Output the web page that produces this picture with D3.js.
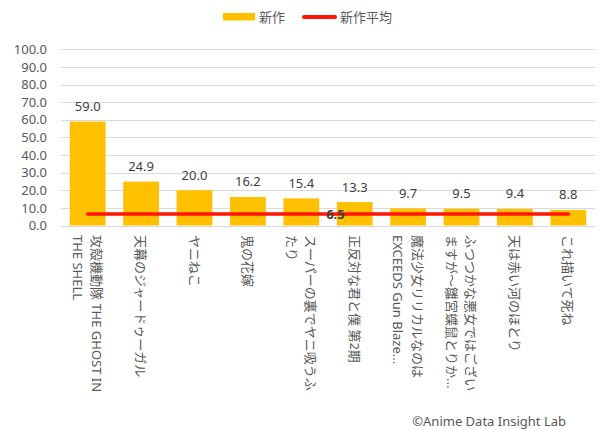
<!DOCTYPE html>
<html>
<head>
<meta charset="utf-8">
<script src="https://d3js.org/d3.v7.min.js"></script>
<style>
  body { margin: 0; background: #fff; }
  text { font-family: "Noto Sans", "Noto Sans CJK JP", sans-serif; }
</style>
</head>
<body>
<script>

// chart data
var titles = [
	["攻殻機動隊 THE GHOST IN", "THE SHELL"],
	["天幕のジャードゥーガル"],
	["ヤニねこ"],
	["鬼の花嫁"],
	["スーパーの裏でヤニ吸うふ", "たり"],
	["正反対な君と僕 第2期"],
	["魔法少女リリカルなのは", "EXCEEDS Gun Blaze..."],
	["ふつつかな悪女ではござい", "ますが～雛宮蝶鼠とりか..."],
	["天は赤い河のほとり"],
	["これ描いて死ね"]
];
var newValues = [59.0, 24.9, 20.0, 16.2, 15.4, 13.3, 9.7, 9.5, 9.4, 8.8];
var avgValues = [6.5, 6.5, 6.5, 6.5, 6.5, 6.5, 6.5, 6.5, 6.5, 6.5];
var yTicks = [0, 10, 20, 30, 40, 50, 60, 70, 80, 90, 100];
var legendNames = ["新作", "新作平均"];
var avgLabelIndex = 5;

var width = 610, height = 430;
var svg = d3.select("body").append("svg").attr("width", width).attr("height", height);

var idx = d3.range(titles.length);
var x = d3.scaleBand().domain(idx).range([61, 595]).paddingInner(0.33).paddingOuter(0.165);
var y = d3.scaleLinear().domain([0, 100]).range([225.5, 49.3]);

//gridlines
svg.append("g").selectAll("line").data(yTicks).join("line")
	.attr("x1", 61).attr("x2", 595)
	.attr("y1", function(d){ return Math.round(y(d)) + 0.5; })
	.attr("y2", function(d){ return Math.round(y(d)) + 0.5; })
	.attr("stroke", "#d9d9d9").attr("stroke-width", 1);

//y axis labels
var yAxis = d3.axisLeft(y).tickValues(yTicks).tickFormat(d3.format(".1f")).tickSize(0).tickPadding(0);
var ga = svg.append("g").attr("transform", "translate(47,0)").call(yAxis);
ga.select(".domain").remove();
ga.selectAll("text").attr("font-size", 13).attr("fill", "#595959")
	.style("font-family", '"Noto Sans", sans-serif');

//bars
svg.append("g").selectAll("rect").data(newValues).join("rect")
	.attr("x", function(d, i){ return x(i); })
	.attr("width", x.bandwidth())
	.attr("y", function(d){ return y(d); })
	.attr("height", function(d){ return y(0) - y(d); })
	.attr("fill", "#ffc000");

//bar value labels
svg.append("g").selectAll("text").data(newValues).join("text")
	.attr("x", function(d, i){ return x(i) + x.bandwidth()/2; })
	.attr("y", function(d){ return y(d) - 10.5; })
	.attr("text-anchor", "middle")
	.attr("font-size", 13).attr("fill", "#404040")
	.text(function(d){ return d.toFixed(1); });

//average line
var line = d3.line()
	.x(function(d, i){ return x(i) + x.bandwidth()/2; })
	.y(function(d){ return y(d); });
svg.append("path").datum(avgValues)
	.attr("d", line)
	.attr("fill", "none")
	.attr("stroke", "#ff1500")
	.attr("stroke-width", 3.5)
	.attr("stroke-linecap", "round");

svg.append("text")
	.attr("x", x(avgLabelIndex) + x.bandwidth()/2 - 10)
	.attr("y", y(avgValues[avgLabelIndex]))
	.attr("dy", "0.35em")
	.attr("text-anchor", "end")
	.attr("font-size", 13).attr("font-weight", "bold").attr("fill", "#404040")
	.text(avgValues[avgLabelIndex].toFixed(1));

//category labels, rotated
var labs = svg.append("g").selectAll("text").data(titles).join("text")
	.attr("transform", function(d, i){ return "translate(" + (x(i) + x.bandwidth()/2) + ",235) rotate(90)"; })
	.attr("font-size", 13).attr("fill", "#595959")
	.attr("dominant-baseline", "central");
labs.each(function(d){
	var t = d3.select(this);
	var off = d.length > 1 ? -9.75 : 0;
	d.forEach(function(s, k){
		t.append("tspan").attr("x", 0).attr("y", off + k*19.5).text(s);
	});
});

//legend
svg.append("rect").attr("x", 223).attr("y", 13).attr("width", 32).attr("height", 7.5).attr("fill", "#ffc000");
svg.append("text").attr("x", 259).attr("y", 17).attr("dy", "0.35em").attr("font-size", 13).attr("fill", "#595959").text(legendNames[0]);
svg.append("line").attr("x1", 304).attr("x2", 335).attr("y1", 17).attr("y2", 17)
	.attr("stroke", "#ff1500").attr("stroke-width", 4).attr("stroke-linecap", "round");
svg.append("text").attr("x", 340).attr("y", 17).attr("dy", "0.35em").attr("font-size", 13).attr("fill", "#595959").text(legendNames[1]);

//credit
svg.append("text").attr("x", 566).attr("y", 426).attr("text-anchor", "end")
	.attr("font-size", 13).attr("fill", "#595959").text("©Anime Data Insight Lab");

</script>
</body>
</html>
